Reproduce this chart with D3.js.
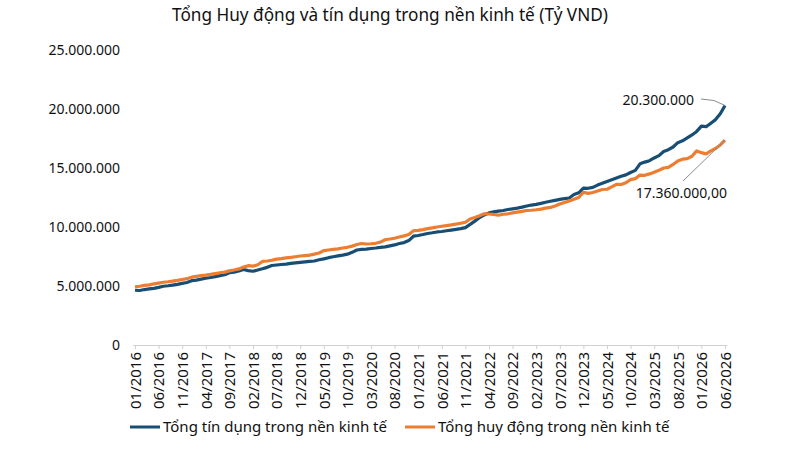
<!DOCTYPE html>
<html>
<head>
<meta charset="utf-8">
<script src="https://cdn.jsdelivr.net/npm/d3@7/dist/d3.min.js"></script>
<style>
  html, body { margin: 0; padding: 0; background: #fff; }
  svg { display: block; font-family: "Noto Sans", "Open Sans", sans-serif; }
</style>
</head>
<body>
<svg id="chart" width="804" height="453"></svg>
<script>
// ---- DATA ----
const title = "Tổng Huy động và tín dụng trong nền kinh tế (Tỷ VND)";
const seriesNames = ["Tổng tín dụng trong nền kinh tế", "Tổng huy động trong nền kinh tế"];
const startMonth = "01/2016";
const endMonth = "06/2026";

// Tổng tín dụng (triệu tỷ VND -> x1e6 tỷ), monthly 01/2016 .. 06/2026
const credit = [
  4.64, 4.62, 4.70, 4.75, 4.80, 4.88, 4.98, 5.02, 5.08, 5.14, 5.22, 5.30,
  5.45, 5.50, 5.58, 5.66, 5.72, 5.80, 5.88, 5.95, 6.12, 6.18, 6.28, 6.40,
  6.30, 6.25, 6.35, 6.46, 6.58, 6.74, 6.78, 6.82, 6.86, 6.92, 6.96, 7.00,
  7.04, 7.08, 7.12, 7.22, 7.30, 7.40, 7.48, 7.55, 7.62, 7.70, 7.85, 8.05,
  8.10, 8.12, 8.18, 8.22, 8.28, 8.32, 8.40, 8.48, 8.60, 8.68, 8.85, 9.22,
  9.28, 9.36, 9.45, 9.51, 9.58, 9.62, 9.68, 9.74, 9.80, 9.86, 9.95, 10.22,
  10.50, 10.80, 11.02, 11.20, 11.28, 11.35, 11.40, 11.48, 11.54, 11.60, 11.68, 11.78,
  11.86, 11.92, 12.00, 12.10, 12.18, 12.26, 12.34, 12.40, 12.46, 12.75, 12.90, 13.30,
  13.28, 13.36, 13.55, 13.70, 13.85, 14.00, 14.15, 14.30, 14.42, 14.62, 14.80, 15.35,
  15.50, 15.62, 15.85, 16.05, 16.40, 16.55, 16.78, 17.15, 17.30, 17.55, 17.80, 18.10,
  18.55, 18.50, 18.80, 19.10, 19.60, 20.30
];
// Tổng huy động
const deposit = [
  4.93, 4.98, 5.05, 5.10, 5.18, 5.25, 5.32, 5.36, 5.42, 5.48, 5.55, 5.62,
  5.75, 5.82, 5.88, 5.92, 5.98, 6.05, 6.12, 6.18, 6.28, 6.36, 6.45, 6.60,
  6.72, 6.68, 6.80, 7.08, 7.12, 7.18, 7.28, 7.32, 7.38, 7.42, 7.48, 7.54,
  7.58, 7.62, 7.70, 7.80, 8.00, 8.05, 8.10, 8.15, 8.22, 8.28, 8.38, 8.52,
  8.60, 8.56, 8.58, 8.62, 8.72, 8.92, 8.98, 9.05, 9.15, 9.25, 9.36, 9.68,
  9.72, 9.78, 9.86, 9.93, 10.00, 10.06, 10.12, 10.18, 10.25, 10.32, 10.40, 10.68,
  10.80, 10.95, 11.12, 11.10, 11.06, 11.00, 11.08, 11.12, 11.20, 11.26, 11.32, 11.40,
  11.42, 11.46, 11.52, 11.60, 11.66, 11.78, 11.95, 12.08, 12.20, 12.35, 12.50, 12.95,
  12.85, 12.92, 13.05, 13.18, 13.20, 13.40, 13.62, 13.60, 13.75, 14.02, 14.10, 14.40,
  14.38, 14.50, 14.65, 14.80, 15.00, 15.05, 15.30, 15.60, 15.75, 15.80, 16.00, 16.45,
  16.30, 16.20, 16.45, 16.65, 16.95, 17.36
];
const unit = 1e6;
const yTicks = [0, 5000000, 10000000, 15000000, 20000000, 25000000];
const xTickLabels = ["01/2016","06/2016","11/2016","04/2017","09/2017","02/2018","07/2018","12/2018",
  "05/2019","10/2019","03/2020","08/2020","01/2021","06/2021","11/2021","04/2022","09/2022",
  "02/2023","07/2023","12/2023","05/2024","10/2024","03/2025","08/2025","01/2026","06/2026"];
const annoCredit = "20.300.000";
const annoDeposit = "17.360.000,00";
const colors = ["#194e74", "#ed7d31"];

// ---- build categories ----
const parseM = d3.timeParse("%m/%Y");
const fmtM = d3.timeFormat("%m/%Y");
const months = d3.timeMonth.range(parseM(startMonth), d3.timeMonth.offset(parseM(endMonth), 1)).map(fmtM);

const vn = d3.formatLocale({decimal: ",", thousands: ".", grouping: [3], currency: ["", ""]});
const fmtY = vn.format(",.0f");

const svg = d3.select("#chart");
const x = d3.scalePoint().domain(months).range([135, 725]);
const y = d3.scaleLinear().domain([0, 25000000]).range([345, 50]);

// Title
svg.append("text").attr("x", 390).attr("y", 21).attr("text-anchor", "middle")
  .attr("font-size", 17.2).attr("fill", "#111").text(title);

// Y axis labels (no line)
const gy = svg.append("g").attr("transform", "translate(120,0)")
  .call(d3.axisLeft(y).tickValues(yTicks).tickFormat(d => fmtY(d)).tickSize(0).tickPadding(0));
gy.select(".domain").remove();
gy.selectAll("text").attr("font-size", 14).attr("fill", "#111")
  .attr("font-family", "'Noto Sans', sans-serif");

// X axis
const gx = svg.append("g").attr("transform", "translate(0,345)")
  .call(d3.axisBottom(x).tickValues(xTickLabels).tickSize(4).tickPadding(0));
gx.select(".domain").attr("stroke", "#d0d0d0").attr("d", "M133,0.5H727");
gx.selectAll(".tick line").attr("stroke", "#d0d0d0");
gx.selectAll("text")
  .attr("font-size", 15).attr("fill", "#111")
  .attr("font-family", "'Noto Sans', sans-serif")
  .attr("text-anchor", "end")
  .attr("transform", "rotate(-90)")
  .attr("x", -7).attr("y", 0).attr("dy", "0.35em");

// Lines
const line = d3.line().x((d, i) => x(months[i])).y(d => y(d * unit));
[credit, deposit].forEach((s, k) => {
  svg.append("path").datum(s).attr("d", line).attr("fill", "none")
    .attr("stroke", colors[k]).attr("stroke-width", 3.2).attr("stroke-linejoin", "round");
});

// Annotations
const lastX = x(months[months.length - 1]);
const cEnd = [lastX, y(credit[credit.length - 1] * unit)];
const dEnd = [lastX, y(deposit[deposit.length - 1] * unit)];
svg.append("path").attr("fill", "none").attr("stroke", "#8c8c8c").attr("stroke-width", 1)
  .attr("d", `M701,99 L714,100.5 L${cEnd[0]},${cEnd[1]}`);
svg.append("text").attr("x", 694).attr("y", 105).attr("text-anchor", "end")
  .attr("font-size", 14).attr("fill", "#111").text(annoCredit);
svg.append("path").attr("fill", "none").attr("stroke", "#8c8c8c").attr("stroke-width", 1)
  .attr("d", `M683,181 L${dEnd[0]},${dEnd[1]}`);
svg.append("text").attr("x", 727).attr("y", 198).attr("text-anchor", "end")
  .attr("font-size", 14).attr("fill", "#111").text(annoDeposit);

// Legend
const legendX = [130, 405];
seriesNames.forEach((n, k) => {
  svg.append("line").attr("x1", legendX[k]).attr("x2", legendX[k] + 30)
    .attr("y1", 427).attr("y2", 427).attr("stroke", colors[k]).attr("stroke-width", 3);
  svg.append("text").attr("x", legendX[k] + 33).attr("y", 432)
    .attr("font-size", 15).attr("fill", "#111").text(n);
});
</script>
</body>
</html>
